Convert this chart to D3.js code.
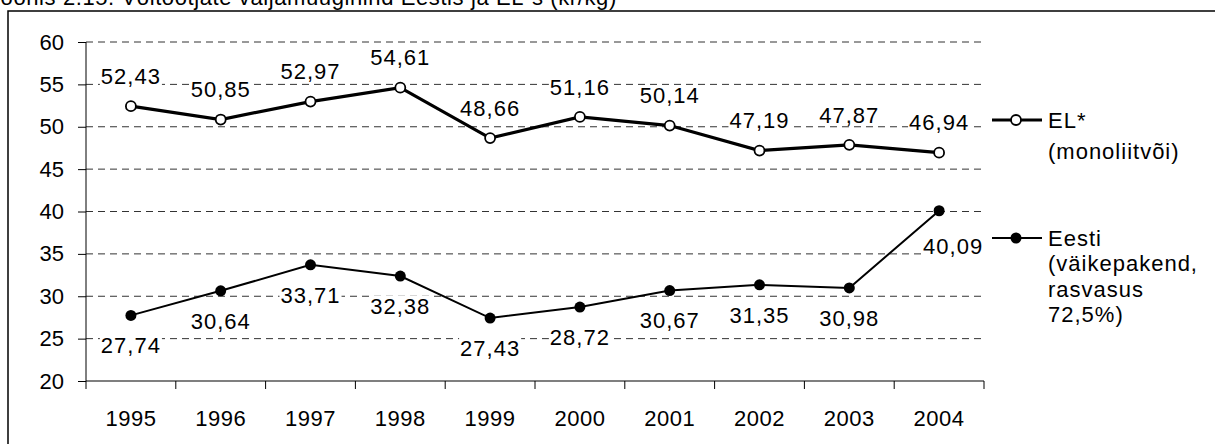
<!DOCTYPE html>
<html>
<head>
<meta charset="utf-8">
<script src="https://cdn.jsdelivr.net/npm/d3@7"></script>
<style>
  html, body { margin: 0; padding: 0; background: #fff; }
  svg { display: block; }
  text { font-family: "Liberation Sans", Arial, sans-serif; fill: #000; }
</style>
</head>
<body>
<svg id="chart" width="1215" height="444"></svg>
<script>
// Butter producer selling price, Estonia vs EU (kr/kg)
const years = ["1995", "1996", "1997", "1998", "1999", "2000", "2001", "2002", "2003", "2004"];
const euValues = [52.43, 50.85, 52.97, 54.61, 48.66, 51.16, 50.14, 47.19, 47.87, 46.94];
const estValues = [27.74, 30.64, 33.71, 32.38, 27.43, 28.72, 30.67, 31.35, 30.98, 40.09];
const yTicks = [20, 25, 30, 35, 40, 45, 50, 55, 60];
const euLegend = ["EL*", "(monoliitvõi)"];
const estLegend = ["Eesti", "(väikepakend,", "rasvasus", "72,5%)"];
const title = "Joonis 2.15. Võitootjate väljamüügihind Eestis ja EL-s (kr/kg)";

const svg = d3.select("#chart");
const FS = 22;
const fmt = v => v.toFixed(2).replace(".", ",");

// Title (its upper part runs above the page edge)
svg.append("text")
  .attr("x", -11).attr("y", 5)
  .style("font-size", FS + "px").style("letter-spacing", "0.6px")
  .text(title);

// Outer frame
svg.append("rect")
  .attr("x", 8).attr("y", 11)
  .attr("width", 1300).attr("height", 500)
  .attr("fill", "none").attr("stroke", "#000").attr("stroke-width", 1.5);

const x = d3.scaleBand().domain(years).range([86, 984]).padding(0);
const y = d3.scaleLinear().domain([20, 60]).range([381, 42]);
const cx = d => x(d) + x.bandwidth() / 2;

// Dashed horizontal gridlines
svg.append("g").selectAll("line")
  .data(yTicks.filter(t => t > 20))
  .join("line")
  .attr("x1", 86).attr("x2", 984)
  .attr("y1", d => y(d)).attr("y2", d => y(d))
  .attr("stroke", "#333").attr("stroke-width", 1)
  .attr("stroke-dasharray", "7,5");

// Y axis
const yAxis = svg.append("g")
  .attr("transform", "translate(86,0)")
  .call(d3.axisLeft(y).tickValues(yTicks).tickSize(8).tickPadding(14).tickFormat(d3.format("d")));
yAxis.selectAll("text").style("font-size", FS + "px").attr("fill", "#000").attr("font-family", null);
yAxis.selectAll("line, path").attr("stroke", "#000").attr("stroke-width", 1);
yAxis.select("path").attr("d", `M0,${y(20)}V${y(60)}`);

// X axis with ticks between categories
const xAxisG = svg.append("g").attr("transform", `translate(0,${y(20)})`);
xAxisG.append("line").attr("x1", 86).attr("x2", 984).attr("stroke", "#000").attr("stroke-width", 1.2);
xAxisG.selectAll("line.tick")
  .data(years.map(d => x(d)).concat([984]))
  .join("line").attr("class", "tick")
  .attr("x1", d => d).attr("x2", d => d)
  .attr("y1", 0).attr("y2", 8)
  .attr("stroke", "#000");
xAxisG.selectAll("text")
  .data(years)
  .join("text")
  .attr("x", d => cx(d)).attr("y", 37)
  .attr("text-anchor", "middle")
  .attr("dy", "0.35em")
  .style("font-size", FS + "px").style("letter-spacing", "0.5px")
  .text(d => d);

const line = d3.line().x((d, i) => cx(years[i])).y(d => y(d));

// Series lines
svg.append("path").datum(estValues)
  .attr("d", line).attr("fill", "none")
  .attr("stroke", "#000").attr("stroke-width", 2);
svg.append("path").datum(euValues)
  .attr("d", line).attr("fill", "none")
  .attr("stroke", "#000").attr("stroke-width", 3.2);

// Markers
svg.append("g").selectAll("circle")
  .data(estValues).join("circle")
  .attr("cx", (d, i) => cx(years[i])).attr("cy", d => y(d))
  .attr("r", 5.5).attr("fill", "#000");
svg.append("g").selectAll("circle")
  .data(euValues).join("circle")
  .attr("cx", (d, i) => cx(years[i])).attr("cy", d => y(d))
  .attr("r", 5).attr("fill", "#fff").attr("stroke", "#000").attr("stroke-width", 1.8);

// Value labels on white boxes; the last Estonian label sits a little to the right
function labels(values, offset, shiftLast) {
  const g = svg.append("g");
  values.forEach((v, i) => {
    const lg = g.append("g");
    const last = shiftLast && i === values.length - 1;
    const t = lg.append("text")
      .attr("x", cx(years[i]) + (last ? 14 : 0))
      .attr("y", y(v) + offset + (last ? 6 : 0))
      .attr("text-anchor", "middle").attr("dy", "0.35em")
      .style("font-size", FS + "px").style("letter-spacing", "1px")
      .text(fmt(v));
    const b = t.node().getBBox();
    lg.insert("rect", "text")
      .attr("x", b.x - 1).attr("y", b.y + 2)
      .attr("width", b.width + 2).attr("height", b.height - 4)
      .attr("fill", "#fff");
  });
}
labels(euValues, -30, false);
labels(estValues, 30, true);

// Legend
function legend(yPos, lines, filled, width, gap) {
  const g = svg.append("g");
  g.append("line").attr("x1", 992).attr("x2", 1042)
    .attr("y1", yPos).attr("y2", yPos)
    .attr("stroke", "#000").attr("stroke-width", width);
  g.append("circle").attr("cx", 1016).attr("cy", yPos).attr("r", filled ? 5.5 : 5)
    .attr("fill", filled ? "#000" : "#fff").attr("stroke", "#000").attr("stroke-width", filled ? 0 : 1.8);
  lines.forEach((s, i) => {
    g.append("text").attr("x", 1048).attr("y", yPos + i * gap)
      .attr("dy", "0.35em").style("font-size", FS + "px").style("letter-spacing", "1px")
      .text(s);
  });
}
legend(120, euLegend, false, 3.2, 31);
legend(238, estLegend, true, 2, 25.5);
</script>
</body>
</html>
